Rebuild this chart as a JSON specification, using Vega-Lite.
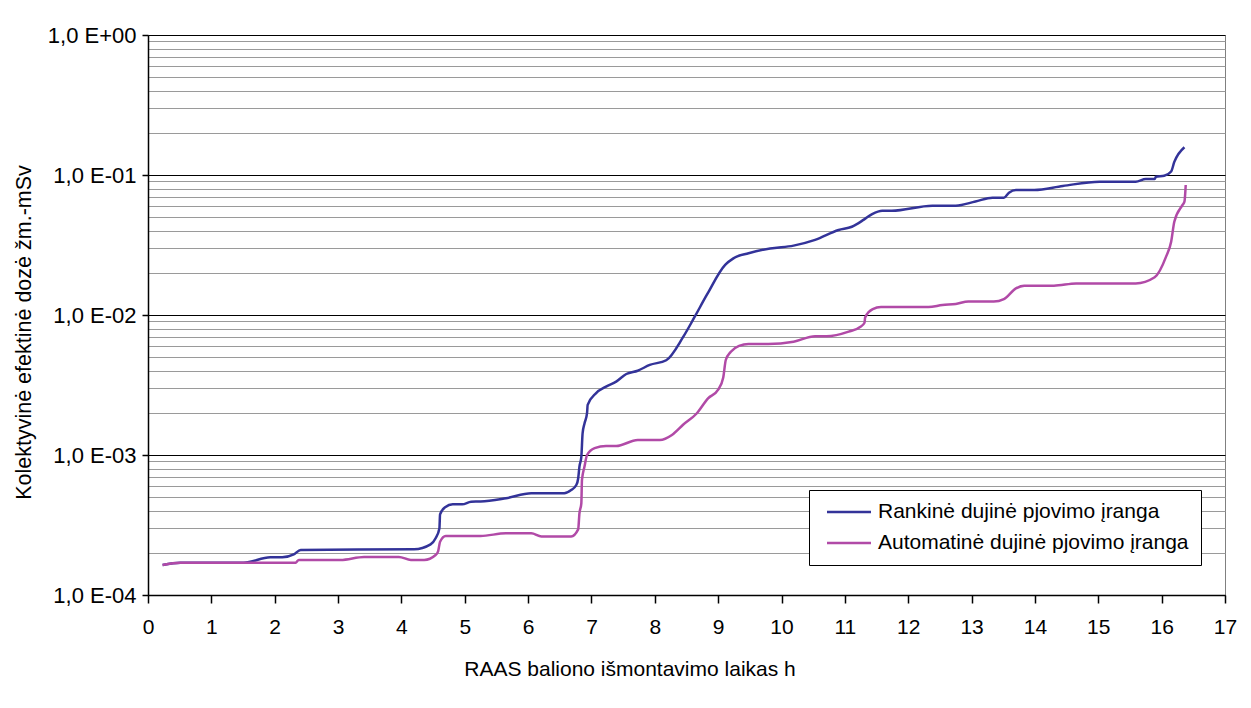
{
  "$schema": "https://vega.github.io/schema/vega-lite/v6.json",
  "autosize": {"type": "none"},
  "width": 1077,
  "height": 560,
  "padding": {"left": 148, "top": 35, "right": 26, "bottom": 113},
  "background": "white",
  "config": {
    "font": "Liberation Sans",
    "view": {"stroke": "#808080", "strokeWidth": 1}
  },
  "data": {
    "values": [
      {"t": 0.23, "dose": 0.000164, "series": "Rankinė dujinė pjovimo įranga"},
      {"t": 0.51, "dose": 0.000170, "series": "Rankinė dujinė pjovimo įranga"},
      {"t": 1.51, "dose": 0.000170, "series": "Rankinė dujinė pjovimo įranga"},
      {"t": 1.93, "dose": 0.000186, "series": "Rankinė dujinė pjovimo įranga"},
      {"t": 2.12, "dose": 0.000186, "series": "Rankinė dujinė pjovimo įranga"},
      {"t": 2.30, "dose": 0.000195, "series": "Rankinė dujinė pjovimo įranga"},
      {"t": 2.41, "dose": 0.000210, "series": "Rankinė dujinė pjovimo įranga"},
      {"t": 4.20, "dose": 0.000212, "series": "Rankinė dujinė pjovimo įranga"},
      {"t": 4.46, "dose": 0.000230, "series": "Rankinė dujinė pjovimo įranga"},
      {"t": 4.54, "dose": 0.000254, "series": "Rankinė dujinė pjovimo įranga"},
      {"t": 4.60, "dose": 0.000300, "series": "Rankinė dujinė pjovimo įranga"},
      {"t": 4.61, "dose": 0.000377, "series": "Rankinė dujinė pjovimo įranga"},
      {"t": 4.69, "dose": 0.000423, "series": "Rankinė dujinė pjovimo įranga"},
      {"t": 4.81, "dose": 0.000444, "series": "Rankinė dujinė pjovimo įranga"},
      {"t": 4.96, "dose": 0.000444, "series": "Rankinė dujinė pjovimo įranga"},
      {"t": 5.10, "dose": 0.000464, "series": "Rankinė dujinė pjovimo įranga"},
      {"t": 5.25, "dose": 0.000465, "series": "Rankinė dujinė pjovimo įranga"},
      {"t": 5.65, "dose": 0.000491, "series": "Rankinė dujinė pjovimo įranga"},
      {"t": 6.05, "dose": 0.000533, "series": "Rankinė dujinė pjovimo įranga"},
      {"t": 6.57, "dose": 0.000533, "series": "Rankinė dujinė pjovimo įranga"},
      {"t": 6.68, "dose": 0.000562, "series": "Rankinė dujinė pjovimo įranga"},
      {"t": 6.76, "dose": 0.000610, "series": "Rankinė dujinė pjovimo įranga"},
      {"t": 6.79, "dose": 0.000680, "series": "Rankinė dujinė pjovimo įranga"},
      {"t": 6.81, "dose": 0.000826, "series": "Rankinė dujinė pjovimo įranga"},
      {"t": 6.84, "dose": 0.000970, "series": "Rankinė dujinė pjovimo įranga"},
      {"t": 6.86, "dose": 0.00143, "series": "Rankinė dujinė pjovimo įranga"},
      {"t": 6.89, "dose": 0.00168, "series": "Rankinė dujinė pjovimo įranga"},
      {"t": 6.93, "dose": 0.00199, "series": "Rankinė dujinė pjovimo įranga"},
      {"t": 6.94, "dose": 0.00228, "series": "Rankinė dujinė pjovimo įranga"},
      {"t": 7.07, "dose": 0.00276, "series": "Rankinė dujinė pjovimo įranga"},
      {"t": 7.23, "dose": 0.00308, "series": "Rankinė dujinė pjovimo įranga"},
      {"t": 7.39, "dose": 0.00334, "series": "Rankinė dujinė pjovimo įranga"},
      {"t": 7.55, "dose": 0.00379, "series": "Rankinė dujinė pjovimo įranga"},
      {"t": 7.73, "dose": 0.00400, "series": "Rankinė dujinė pjovimo įranga"},
      {"t": 7.92, "dose": 0.00440, "series": "Rankinė dujinė pjovimo įranga"},
      {"t": 8.18, "dose": 0.00475, "series": "Rankinė dujinė pjovimo įranga"},
      {"t": 8.45, "dose": 0.00700, "series": "Rankinė dujinė pjovimo įranga"},
      {"t": 8.63, "dose": 0.00972, "series": "Rankinė dujinė pjovimo įranga"},
      {"t": 8.82, "dose": 0.0139, "series": "Rankinė dujinė pjovimo įranga"},
      {"t": 9.11, "dose": 0.0228, "series": "Rankinė dujinė pjovimo įranga"},
      {"t": 9.24, "dose": 0.0254, "series": "Rankinė dujinė pjovimo įranga"},
      {"t": 9.48, "dose": 0.0276, "series": "Rankinė dujinė pjovimo įranga"},
      {"t": 9.82, "dose": 0.0299, "series": "Rankinė dujinė pjovimo įranga"},
      {"t": 10.19, "dose": 0.0313, "series": "Rankinė dujinė pjovimo įranga"},
      {"t": 10.53, "dose": 0.0344, "series": "Rankinė dujinė pjovimo įranga"},
      {"t": 10.90, "dose": 0.0405, "series": "Rankinė dujinė pjovimo įranga"},
      {"t": 11.11, "dose": 0.0427, "series": "Rankinė dujinė pjovimo įranga"},
      {"t": 11.30, "dose": 0.0480, "series": "Rankinė dujinė pjovimo įranga"},
      {"t": 11.43, "dose": 0.0526, "series": "Rankinė dujinė pjovimo įranga"},
      {"t": 11.59, "dose": 0.0556, "series": "Rankinė dujinė pjovimo įranga"},
      {"t": 11.74, "dose": 0.0556, "series": "Rankinė dujinė pjovimo įranga"},
      {"t": 12.38, "dose": 0.0604, "series": "Rankinė dujinė pjovimo įranga"},
      {"t": 12.75, "dose": 0.0604, "series": "Rankinė dujinė pjovimo įranga"},
      {"t": 13.06, "dose": 0.0646, "series": "Rankinė dujinė pjovimo įranga"},
      {"t": 13.33, "dose": 0.0689, "series": "Rankinė dujinė pjovimo įranga"},
      {"t": 13.51, "dose": 0.0689, "series": "Rankinė dujinė pjovimo įranga"},
      {"t": 13.59, "dose": 0.0748, "series": "Rankinė dujinė pjovimo įranga"},
      {"t": 13.70, "dose": 0.0782, "series": "Rankinė dujinė pjovimo įranga"},
      {"t": 13.99, "dose": 0.0782, "series": "Rankinė dujinė pjovimo įranga"},
      {"t": 14.44, "dose": 0.0835, "series": "Rankinė dujinė pjovimo įranga"},
      {"t": 15.02, "dose": 0.0896, "series": "Rankinė dujinė pjovimo įranga"},
      {"t": 15.59, "dose": 0.0896, "series": "Rankinė dujinė pjovimo įranga"},
      {"t": 15.75, "dose": 0.0936, "series": "Rankinė dujinė pjovimo įranga"},
      {"t": 15.89, "dose": 0.0936, "series": "Rankinė dujinė pjovimo įranga"},
      {"t": 15.91, "dose": 0.0972, "series": "Rankinė dujinė pjovimo įranga"},
      {"t": 16.04, "dose": 0.0988, "series": "Rankinė dujinė pjovimo įranga"},
      {"t": 16.15, "dose": 0.106, "series": "Rankinė dujinė pjovimo įranga"},
      {"t": 16.20, "dose": 0.124, "series": "Rankinė dujinė pjovimo įranga"},
      {"t": 16.36, "dose": 0.158, "series": "Rankinė dujinė pjovimo įranga"},
      {"t": 0.23, "dose": 0.000164, "series": "Automatinė dujinė pjovimo įranga"},
      {"t": 0.51, "dose": 0.000170, "series": "Automatinė dujinė pjovimo įranga"},
      {"t": 2.33, "dose": 0.000170, "series": "Automatinė dujinė pjovimo įranga"},
      {"t": 2.38, "dose": 0.000178, "series": "Automatinė dujinė pjovimo įranga"},
      {"t": 3.04, "dose": 0.000178, "series": "Automatinė dujinė pjovimo įranga"},
      {"t": 3.41, "dose": 0.000187, "series": "Automatinė dujinė pjovimo įranga"},
      {"t": 3.96, "dose": 0.000187, "series": "Automatinė dujinė pjovimo įranga"},
      {"t": 4.15, "dose": 0.000178, "series": "Automatinė dujinė pjovimo įranga"},
      {"t": 4.36, "dose": 0.000178, "series": "Automatinė dujinė pjovimo įranga"},
      {"t": 4.54, "dose": 0.000193, "series": "Automatinė dujinė pjovimo įranga"},
      {"t": 4.58, "dose": 0.000206, "series": "Automatinė dujinė pjovimo įranga"},
      {"t": 4.61, "dose": 0.000240, "series": "Automatinė dujinė pjovimo įranga"},
      {"t": 4.70, "dose": 0.000264, "series": "Automatinė dujinė pjovimo įranga"},
      {"t": 5.25, "dose": 0.000264, "series": "Automatinė dujinė pjovimo įranga"},
      {"t": 5.65, "dose": 0.000276, "series": "Automatinė dujinė pjovimo įranga"},
      {"t": 6.05, "dose": 0.000276, "series": "Automatinė dujinė pjovimo įranga"},
      {"t": 6.21, "dose": 0.000262, "series": "Automatinė dujinė pjovimo įranga"},
      {"t": 6.68, "dose": 0.000262, "series": "Automatinė dujinė pjovimo įranga"},
      {"t": 6.79, "dose": 0.000294, "series": "Automatinė dujinė pjovimo įranga"},
      {"t": 6.81, "dose": 0.000383, "series": "Automatinė dujinė pjovimo įranga"},
      {"t": 6.84, "dose": 0.000452, "series": "Automatinė dujinė pjovimo įranga"},
      {"t": 6.85, "dose": 0.000663, "series": "Automatinė dujinė pjovimo įranga"},
      {"t": 6.89, "dose": 0.000826, "series": "Automatinė dujinė pjovimo įranga"},
      {"t": 6.93, "dose": 0.00100, "series": "Automatinė dujinė pjovimo įranga"},
      {"t": 7.05, "dose": 0.00112, "series": "Automatinė dujinė pjovimo įranga"},
      {"t": 7.23, "dose": 0.00116, "series": "Automatinė dujinė pjovimo įranga"},
      {"t": 7.39, "dose": 0.00116, "series": "Automatinė dujinė pjovimo įranga"},
      {"t": 7.73, "dose": 0.00128, "series": "Automatinė dujinė pjovimo įranga"},
      {"t": 8.08, "dose": 0.00128, "series": "Automatinė dujinė pjovimo įranga"},
      {"t": 8.27, "dose": 0.00139, "series": "Automatinė dujinė pjovimo įranga"},
      {"t": 8.45, "dose": 0.00165, "series": "Automatinė dujinė pjovimo įranga"},
      {"t": 8.66, "dose": 0.00198, "series": "Automatinė dujinė pjovimo įranga"},
      {"t": 8.84, "dose": 0.00254, "series": "Automatinė dujinė pjovimo įranga"},
      {"t": 9.00, "dose": 0.00293, "series": "Automatinė dujinė pjovimo įranga"},
      {"t": 9.08, "dose": 0.00358, "series": "Automatinė dujinė pjovimo įranga"},
      {"t": 9.12, "dose": 0.00477, "series": "Automatinė dujinė pjovimo įranga"},
      {"t": 9.20, "dose": 0.00547, "series": "Automatinė dujinė pjovimo įranga"},
      {"t": 9.33, "dose": 0.00602, "series": "Automatinė dujinė pjovimo įranga"},
      {"t": 9.48, "dose": 0.00621, "series": "Automatinė dujinė pjovimo įranga"},
      {"t": 9.79, "dose": 0.00621, "series": "Automatinė dujinė pjovimo įranga"},
      {"t": 10.19, "dose": 0.00645, "series": "Automatinė dujinė pjovimo įranga"},
      {"t": 10.53, "dose": 0.00704, "series": "Automatinė dujinė pjovimo įranga"},
      {"t": 10.71, "dose": 0.00704, "series": "Automatinė dujinė pjovimo įranga"},
      {"t": 11.06, "dose": 0.00760, "series": "Automatinė dujinė pjovimo įranga"},
      {"t": 11.24, "dose": 0.00820, "series": "Automatinė dujinė pjovimo įranga"},
      {"t": 11.31, "dose": 0.00881, "series": "Automatinė dujinė pjovimo įranga"},
      {"t": 11.32, "dose": 0.00962, "series": "Automatinė dujinė pjovimo įranga"},
      {"t": 11.44, "dose": 0.0110, "series": "Automatinė dujinė pjovimo įranga"},
      {"t": 11.57, "dose": 0.0114, "series": "Automatinė dujinė pjovimo įranga"},
      {"t": 12.32, "dose": 0.0114, "series": "Automatinė dujinė pjovimo įranga"},
      {"t": 12.54, "dose": 0.0118, "series": "Automatinė dujinė pjovimo įranga"},
      {"t": 12.75, "dose": 0.0120, "series": "Automatinė dujinė pjovimo įranga"},
      {"t": 12.95, "dose": 0.0125, "series": "Automatinė dujinė pjovimo įranga"},
      {"t": 13.35, "dose": 0.0125, "series": "Automatinė dujinė pjovimo įranga"},
      {"t": 13.51, "dose": 0.0130, "series": "Automatinė dujinė pjovimo įranga"},
      {"t": 13.70, "dose": 0.0155, "series": "Automatinė dujinė pjovimo įranga"},
      {"t": 13.83, "dose": 0.0162, "series": "Automatinė dujinė pjovimo įranga"},
      {"t": 14.30, "dose": 0.0162, "series": "Automatinė dujinė pjovimo įranga"},
      {"t": 14.65, "dose": 0.0168, "series": "Automatinė dujinė pjovimo įranga"},
      {"t": 15.59, "dose": 0.0168, "series": "Automatinė dujinė pjovimo įranga"},
      {"t": 15.89, "dose": 0.0186, "series": "Automatinė dujinė pjovimo įranga"},
      {"t": 16.07, "dose": 0.0261, "series": "Automatinė dujinė pjovimo įranga"},
      {"t": 16.15, "dose": 0.0334, "series": "Automatinė dujinė pjovimo įranga"},
      {"t": 16.20, "dose": 0.0464, "series": "Automatinė dujinė pjovimo įranga"},
      {"t": 16.33, "dose": 0.0611, "series": "Automatinė dujinė pjovimo įranga"},
      {"t": 16.36, "dose": 0.0645, "series": "Automatinė dujinė pjovimo įranga"},
      {"t": 16.38, "dose": 0.0849, "series": "Automatinė dujinė pjovimo įranga"}
    ]
  },
  "mark": {"type": "line", "interpolate": "monotone", "strokeWidth": 2.5},
  "encoding": {
    "x": {
      "field": "t",
      "type": "quantitative",
      "scale": {"domain": [0, 17], "nice": false, "zero": false},
      "axis": {
        "title": "RAAS baliono išmontavimo laikas h",
        "values": [0,1,2,3,4,5,6,7,8,9,10,11,12,13,14,15,16,17],
        "grid": false,
        "domainColor": "black",
        "domainWidth": 1.5,
        "tickColor": "black",
        "tickSize": 8,
        "tickWidth": 1.5,
        "labelFontSize": 21,
        "labelColor": "black",
        "labelPadding": 13,
        "labelFlush": false,
        "labelOverlap": false,
        "titleFontSize": 21,
        "titleFontWeight": "normal",
        "titleColor": "black",
        "titlePadding": 21,
        "titleX": 481.5,
        "titleAlign": "center"
      }
    },
    "y": {
      "field": "dose",
      "type": "quantitative",
      "scale": {"type": "log", "domain": [0.0001, 1], "nice": false},
      "axis": {
        "title": "Kolektyvinė efektinė dozė žm.-mSv",
        "values": [0.0001,0.0002,0.0003,0.0004,0.0005,0.0006,0.0007,0.0008,0.0009,0.001,0.002,0.003,0.004,0.005,0.006,0.007,0.008,0.009,0.01,0.02,0.03,0.04,0.05,0.06,0.07,0.08,0.09,0.1,0.2,0.3,0.4,0.5,0.6,0.7,0.8,0.9,1],
        "labelExpr": "abs(log(datum.value)/LN10 - round(log(datum.value)/LN10)) < 0.001 ? (datum.value >= 0.5 ? '1,0 E+00' : '1,0 E-0' + (-round(log(datum.value)/LN10))) : ''",
        "grid": true,
        "gridColor": {"condition": {"test": "abs(log(datum.value)/LN10 - round(log(datum.value)/LN10)) < 0.001", "value": "black"}, "value": "#9a9a9a"},
        "gridWidth": 1,
        "gridOpacity": 1,
        "domainColor": "black",
        "domainWidth": 1.5,
        "tickColor": "black",
        "tickOpacity": {"condition": {"test": "abs(log(datum.value)/LN10 - round(log(datum.value)/LN10)) < 0.001", "value": 1}, "value": 0},
        "tickSize": 6,
        "tickWidth": 1.5,
        "labelFontSize": 22,
        "labelColor": "black",
        "labelPadding": 6,
        "labelOverlap": false,
        "labelFlush": false,
        "titleFontSize": 21.5,
        "titleFontWeight": "normal",
        "titleColor": "black",
        "titlePadding": 12,
        "titleY": 297
      }
    },
    "color": {
      "field": "series",
      "type": "nominal",
      "scale": {
        "domain": ["Rankinė dujinė pjovimo įranga", "Automatinė dujinė pjovimo įranga"],
        "range": ["#333399", "#B14AA7"]
      },
      "legend": {
        "title": null,
        "orient": "none",
        "legendX": 661,
        "legendY": 455,
        "direction": "vertical",
        "symbolType": "M-0.533,0L5.333,0",
        "symbolSize": 225,
        "symbolStrokeWidth": 2.5,
        "labelFontSize": 21,
        "labelColor": "black",
        "labelOffset": 36.5,
        "labelLimit": 500,
        "labelExpr": "datum.label + '\u2002'",
        "fillColor": "white",
        "strokeColor": "black",
        "padding": 11.5,
        "rowPadding": 9,
        "cornerRadius": 0
      }
    }
  }
}
